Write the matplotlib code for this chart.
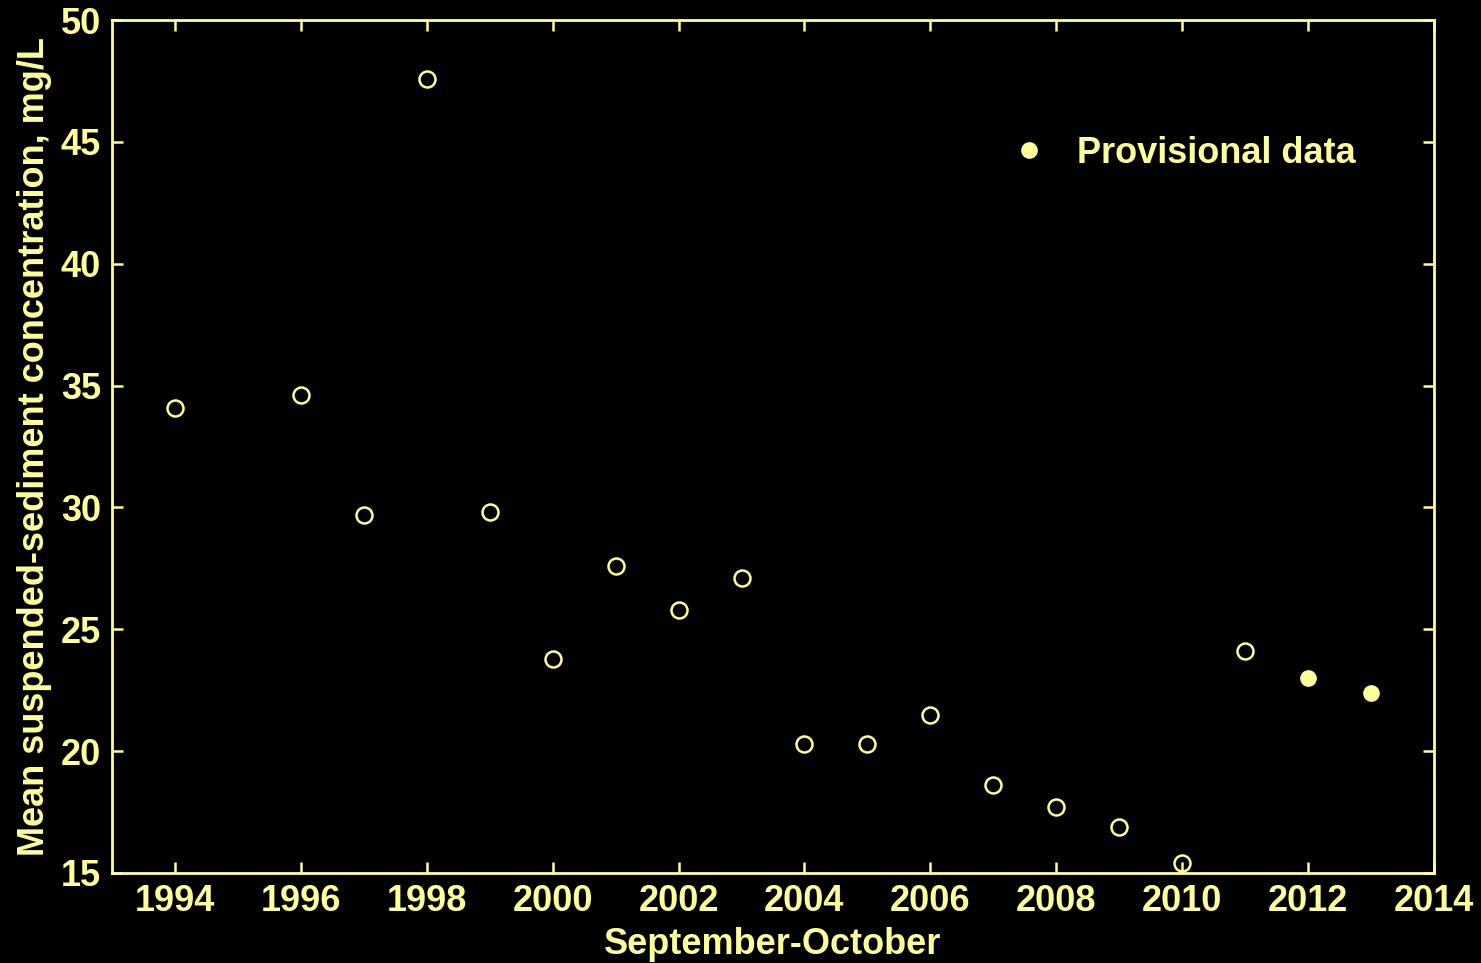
import matplotlib
matplotlib.use('Agg')
import matplotlib.pyplot as plt

# Sept-Oct mean suspended-sediment concentrations (mg/L)
years = [1994, 1996, 1997, 1998, 1999, 2000, 2001, 2002, 2003, 2004,
         2005, 2006, 2007, 2008, 2009, 2010, 2011]
conc = [34.1, 34.6, 29.7, 47.6, 29.8, 23.8, 27.6, 25.8, 27.1, 20.3,
        20.3, 21.5, 18.6, 17.7, 16.9, 15.4, 24.1]
prov_years = [2012, 2013]
prov_conc = [23.0, 22.4]

xticks = [1994, 1996, 1998, 2000, 2002, 2004, 2006, 2008, 2010, 2012, 2014]
yticks = [15, 20, 25, 30, 35, 40, 45, 50]

fg = '#ffff99'
fs = 26
plt.rcParams['font.family'] = ['Liberation Sans', 'DejaVu Sans']
plt.rcParams['font.weight'] = 'bold'

fig = plt.figure(figsize=(14.81, 9.63), dpi=100, facecolor='black')
ax = fig.add_axes([0.0756, 0.0935, 0.8927, 0.8857], facecolor='black')

ax.plot(years, conc, 'o', ls='none', mfc='none', mec=fg, ms=11.5, mew=1.8)
ax.plot(prov_years, prov_conc, 'o', ls='none', mfc=fg, mec=fg, ms=11, mew=1,
        label='Provisional data')

ax.set_xlim(1993, 2014)
ax.set_ylim(15, 50)
ax.set_xticks(xticks)
ax.set_yticks(yticks)
ax.tick_params(direction='in', length=8, width=1.8, colors=fg, labelsize=fs,
               top=True, right=True, pad=8)
for s in ax.spines.values():
    s.set_color(fg)
    s.set_linewidth(2)

ax.set_xlabel('September-October', color=fg, fontsize=fs, fontweight='bold', labelpad=6)
ax.set_ylabel('Mean suspended-sediment concentration, mg/L', color=fg, fontsize=fs,
              fontweight='bold', labelpad=6)

leg = ax.legend(loc='center right', bbox_to_anchor=(0.941, 0.844), frameon=False,
                fontsize=fs, handletextpad=0.6, handlelength=1.5, numpoints=1,
                borderpad=0, borderaxespad=0)
for t in leg.get_texts():
    t.set_color(fg)
    t.set_fontweight('bold')

fig.savefig('out.png', dpi=100, facecolor='black')
